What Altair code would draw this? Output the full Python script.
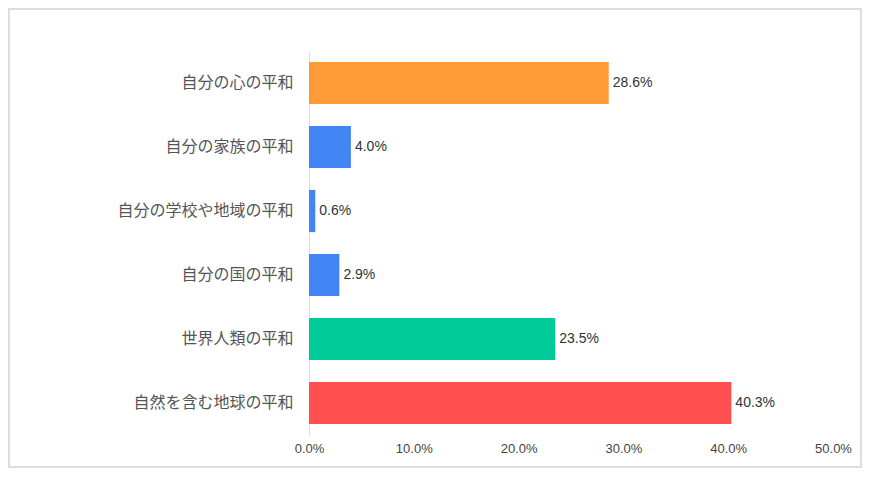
import altair as alt
import pandas as pd

categories = ["自分の心の平和", "自分の家族の平和", "自分の学校や地域の平和",
              "自分の国の平和", "世界人類の平和", "自然を含む地球の平和"]
values = [28.6, 4.0, 0.6, 2.9, 23.5, 40.3]
colors = ["#FF9A36", "#4285F4", "#4285F4", "#4285F4", "#00CC99", "#FF4F4F"]
x_ticks = [0, 10, 20, 30, 40, 50]

df = pd.DataFrame({"cat": categories, "value": values})

W, H = 524, 384
PAD_L, PAD_T = 301, 43
SVG_W, SVG_H = 854, 460
PAD_R, PAD_B = SVG_W - PAD_L - W, SVG_H - PAD_T - H

y_enc = alt.Y("cat:N", sort=categories, title=None,
              scale=alt.Scale(paddingInner=0.34, paddingOuter=0.17),
              axis=alt.Axis(domain=True, domainColor="#DDDDDD", domainWidth=1,
                            ticks=False, labelPadding=16, labelFontSize=16,
                            labelColor="#555555", labelFont="Noto Sans CJK JP",
                            labelLimit=300))
x_enc = alt.X("value:Q", title=None,
              scale=alt.Scale(domain=[0, 50], nice=False),
              axis=alt.Axis(values=x_ticks, grid=False, domain=False, ticks=False,
                            labelExpr="format(datum.value, '.1f') + '%'",
                            labelFlush=False, labelFontSize=13, labelColor="#444444",
                            labelFont="Liberation Sans", labelPadding=7))

base = alt.Chart(df)

border = alt.Chart(pd.DataFrame({"a": [0]})).mark_rect(
    fill=None, stroke="#DDDDDD", strokeWidth=2
).encode(x=alt.value(-PAD_L + 1), x2=alt.value(W + PAD_R - 1),
         y=alt.value(-PAD_T + 1), y2=alt.value(H + PAD_B - 1))

bars = base.mark_bar().encode(
    x=x_enc, y=y_enc,
    color=alt.Color("cat:N", scale=alt.Scale(domain=categories, range=colors), legend=None),
)

labels = base.mark_text(align="left", baseline="middle", dx=4, fontSize=14,
                        font="Liberation Sans", color="#333333").encode(
    x="value:Q", y=alt.Y("cat:N", sort=categories),
    text=alt.Text("label:N"),
).transform_calculate(label="format(datum.value, '.1f') + '%'")

chart = alt.layer(border, bars, labels).properties(
    width=W, height=H,
    autosize=alt.AutoSizeParams(type="none"),
    padding={"left": PAD_L, "top": PAD_T, "right": PAD_R, "bottom": PAD_B},
).configure(background="white").configure_view(strokeWidth=0)

chart.save("out.html", embed_options={"renderer": "svg", "actions": False})
